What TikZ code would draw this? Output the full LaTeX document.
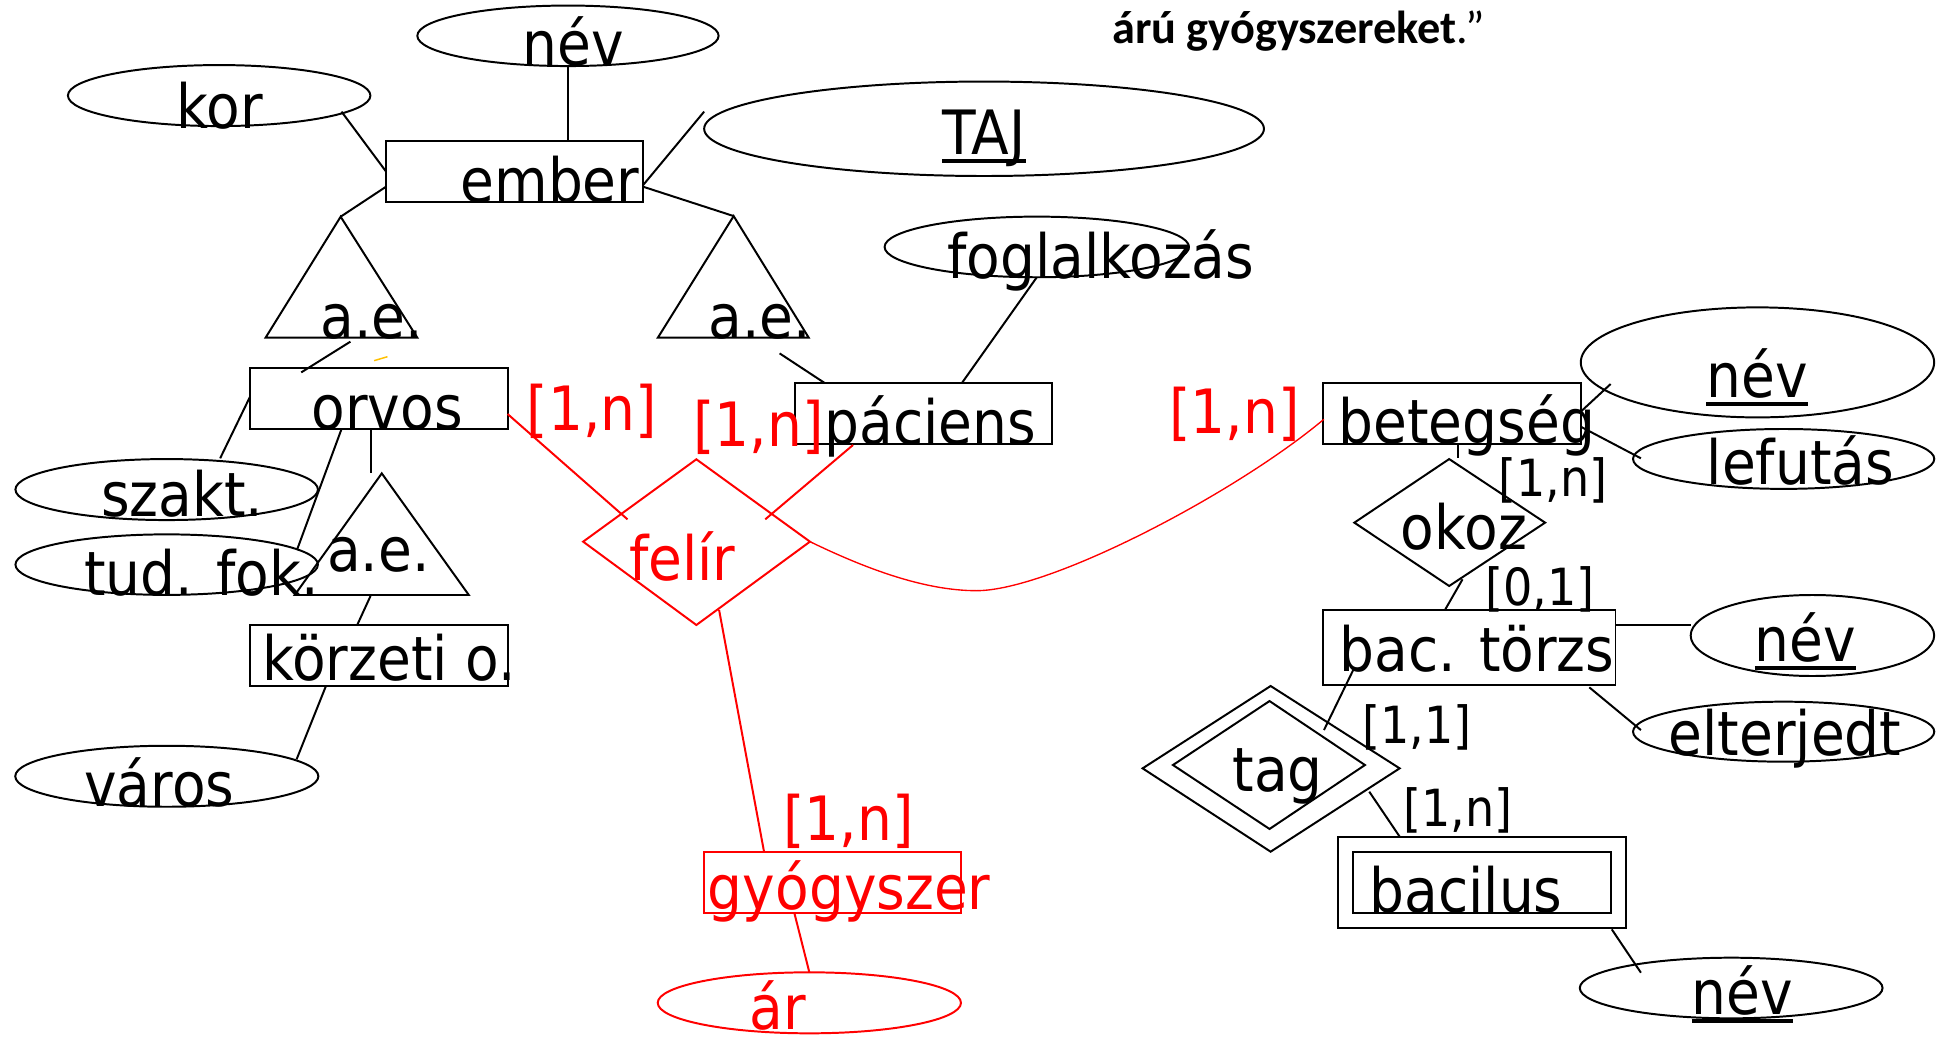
\documentclass[tikz,border=0pt]{standalone}
\usepackage{fontspec}
\setmainfont{DejaVu Sans}[FakeStretch=0.9]
\newfontfamily\headfont{Carlito}
\usetikzlibrary{shapes.geometric}
\newsavebox\ulbox
\newcommand\myul[1]{\sbox\ulbox{#1}\rlap{\rule[-6.5pt]{\wd\ulbox}{3pt}}\usebox\ulbox}
\definecolor{dashyel}{RGB}{255,192,0}
\begin{document}
\begin{tikzpicture}[x=1pt,y=-1pt,line width=1.6pt,
  box/.style={draw,rectangle,inner sep=0pt},
  attr/.style={draw,ellipse,inner sep=0pt},
  lbl/.style={inner sep=0pt,anchor=base,font=\fontsize{49.5}{56}\selectfont},
  card/.style={inner sep=0pt,anchor=base,font=\fontsize{41.5}{48}\selectfont},
  thinred/.style={red,line width=1.1pt}]
\useasboundingbox (0,0) rectangle (1568,840);

% ---------- entity boxes ----------
\node[box,minimum width=208.1pt,minimum height=49.2pt] (ember) at (416.75,138.8) {};
\node[box,minimum width=208.6pt,minimum height=49.2pt] (orvos) at (306.8,322.9) {};
\node[box,minimum width=208.6pt,minimum height=49.4pt] (korzeti) at (306.8,530.9) {};
\node[box,minimum width=208.7pt,minimum height=49.7pt] (paciens) at (747.85,335.05) {};
\node[box,minimum width=208.9pt,minimum height=49.7pt] (betegseg) at (1175.85,334.75) {};
\node[box,minimum width=237pt,minimum height=60.8pt] (bactorzs) at (1189.9,524.4) {};
\node[box,minimum width=233.1pt,minimum height=73.8pt] (bacilusO) at (1200.45,714.5) {};
\node[box,minimum width=208.5pt,minimum height=49.4pt] (bacilusI) at (1200.25,714.5) {};
\node[box,red,minimum width=208.1pt,minimum height=49.4pt] (gyogy) at (674.25,714.5) {};

% ---------- attribute ellipses ----------
\node[attr,minimum width=244pt,minimum height=49pt] (nev1) at (460,29) {};
\node[attr,minimum width=245pt,minimum height=49.4pt] (kor) at (177.5,77.4) {};
\node[attr,minimum width=453.4pt,minimum height=76.5pt] (taj) at (797,104.3) {};
\node[attr,minimum width=246.5pt,minimum height=49.1pt] (fogl) at (839.7,200) {};
\node[attr,minimum width=245pt,minimum height=49.4pt] (szakt) at (135,396.5) {};
\node[attr,minimum width=245pt,minimum height=49pt] (tudfok) at (135,457.3) {};
\node[attr,minimum width=245.5pt,minimum height=49.4pt] (varos) at (135.1,628.7) {};
\node[attr,minimum width=286.2pt,minimum height=89.1pt] (nev2) at (1423.4,293.5) {};
\node[attr,minimum width=244pt,minimum height=48.5pt] (lefutas) at (1444.6,371.7) {};
\node[attr,minimum width=197.2pt,minimum height=65.6pt] (nev3) at (1467.9,514.7) {};
\node[attr,minimum width=244pt,minimum height=48.6pt] (elterj) at (1444.6,592.6) {};
\node[attr,minimum width=245.2pt,minimum height=49.1pt] (nev4) at (1402.1,800.2) {};
\node[attr,red,minimum width=245.6pt,minimum height=49.4pt] (ar) at (655.5,812.2) {};

% ---------- triangles (a.e.) ----------
\coordinate (t1A) at (275.9,175.5); \coordinate (t1L) at (215.1,273.5); \coordinate (t1R) at (338,273.5);
\coordinate (t2A) at (594.2,175);   \coordinate (t2L) at (532.8,273.5); \coordinate (t2R) at (655,273.5);
\coordinate (t3A) at (309.2,383.4); \coordinate (t3L) at (238.7,481.9); \coordinate (t3R) at (379.7,481.9);
\draw (t1A) -- (t1R) -- (t1L) -- cycle;
\draw (t2A) -- (t2R) -- (t2L) -- cycle;
\draw (t3A) -- (t3R) -- (t3L) -- cycle;

% ---------- diamonds ----------
\coordinate (fT) at (564,372); \coordinate (fR) at (656,438.7); \coordinate (fB) at (564,506.2); \coordinate (fL) at (472.3,438.7);
\draw[red] (fT) -- (fR) -- (fB) -- (fL) -- cycle;
\coordinate (oT) at (1173.7,371.8); \coordinate (oR) at (1251.4,423.3); \coordinate (oB) at (1173.7,474.6); \coordinate (oL) at (1096.9,423.3);
\draw (oT) -- (oR) -- (oB) -- (oL) -- cycle;
\coordinate (gT) at (1029.1,555.6); \coordinate (gR) at (1133.6,622.3); \coordinate (gB) at (1029.1,689.8); \coordinate (gL) at (925.4,622.3);
\draw (gT) -- (gR) -- (gB) -- (gL) -- cycle;
\coordinate (hT) at (1028.2,567.8); \coordinate (hR) at (1105.5,619.6); \coordinate (hB) at (1028.2,671.4); \coordinate (hL) at (950,619.6);
\draw (hT) -- (hR) -- (hB) -- (hL) -- cycle;

% ---------- connector end points ----------
\coordinate (a1) at (276.6,90.4);   \coordinate (a2) at (312.7,139);
\coordinate (b1) at (460,53);       \coordinate (b2) at (460,114.2);
\coordinate (c1) at (520.8,150);    \coordinate (c2) at (570.3,90.4);
\coordinate (d1) at (312.7,151.2);
\coordinate (e1) at (520.8,151.2);
\coordinate (f1) at (283.8,276.7);  \coordinate (f2) at (244,301.6);
\coordinate (y1) at (303,292.1);    \coordinate (y2) at (313.8,288.9);
\coordinate (g1) at (631.4,286.2);  \coordinate (g2) at (667.6,310);
\coordinate (h1) at (779.2,310);    \coordinate (h2) at (839.7,224.6);
\coordinate (i1) at (202.5,321.3);  \coordinate (i2) at (178.3,371.2);
\coordinate (j1) at (276.6,347.5);  \coordinate (j2) at (240.5,445.5);
\coordinate (k1) at (300.1,347.5);  \coordinate (k2) at (300.1,383.4);
\coordinate (l1) at (300.1,482.7);  \coordinate (l2) at (289.3,506.2);
\coordinate (m1) at (264,555.6);    \coordinate (m2) at (240.2,615);
\coordinate (n1) at (411.1,335.3);  \coordinate (n2) at (508.2,420.6);
\coordinate (p1) at (690.9,360.4);  \coordinate (p2) at (619.8,420.6);
\coordinate (q1) at (1072.2,339.6); \coordinate (q0) at (790.9,478.4);
\coordinate (s1) at (582.4,494);    \coordinate (s2) at (618.8,689.8);
\coordinate (u1) at (643.3,739.2);  \coordinate (u2) at (655.5,787.5);
\coordinate (v1) at (1280.3,333.4); \coordinate (v2) at (1304.5,311);
\coordinate (w1) at (1280.3,345.6); \coordinate (w2) at (1329,371.2);
\coordinate (x1) at (1181,359.6);   \coordinate (x2) at (1181,371.2);
\coordinate (z1) at (1184.5,469.2); \coordinate (z2) at (1170.3,494);
\coordinate (aa1) at (1308.4,506.2); \coordinate (aa2) at (1369.3,506.2);
\coordinate (bb1) at (1287.2,556.7); \coordinate (bb2) at (1329,591.3);
\coordinate (cc1) at (1096,542.6);  \coordinate (cc2) at (1072.3,591.3);
\coordinate (dd1) at (1109,641.2);  \coordinate (dd2) at (1133.6,677.6);
\coordinate (ee1) at (1305.4,752.7); \coordinate (ee2) at (1329,787.8);

% ---------- black connectors ----------
\draw (a1) -- (a2);
\draw (b1) -- (b2);
\draw (c1) -- (c2);
\draw (d1) -- (t1A);
\draw (e1) -- (t2A);
\draw (f1) -- (f2);
\draw[dashyel,line width=1.2pt] (y1) -- (y2);
\draw (g1) -- (g2);
\draw (h1) -- (h2);
\draw (i1) -- (i2);
\draw (j1) -- (j2);
\draw (k1) -- (k2);
\draw (l1) -- (l2);
\draw (m1) -- (m2);
\draw (v1) -- (v2);
\draw (w1) -- (w2);
\draw (x1) -- (x2);
\draw (z1) -- (z2);
\draw (aa1) -- (aa2);
\draw (bb1) -- (bb2);
\draw (cc1) -- (cc2);
\draw (dd1) -- (dd2);
\draw (ee1) -- (ee2);

% ---------- red connectors ----------
\draw[red] (n1) -- (n2);
\draw[red] (p1) -- (p2);
\draw[red] (s1) -- (s2);
\draw[red] (u1) -- (u2);
\draw[thinred] (fR) .. controls (700,460) and (748,478.4) .. (q0)
                    .. controls (850,478.4) and (1000,400) .. (q1);

% ---------- texts ----------
\node[lbl] (tnev1) at (464.5,53) {név};
\node[lbl] (tkor) at (178,104) {kor};
\node[lbl] (tember) at (445.5,164) {ember};
\node[lbl] (ttaj) at (797,125.5) {\myul{TAJ}};
\node[lbl] (tae1) at (301,274) {a.e.};
\node[lbl] (tae2) at (615.3,274) {a.e.};
\node[lbl] (tfog) at (891.5,225.5) {foglalkozás};
\node[lbl] (torvos) at (313.5,348) {orvos};
\node[lbl] (tpac) at (753.6,360) {páciens};
\node[lbl] (tbeteg) at (1188,359.6) {betegség};
\node[lbl] (tnev2) at (1423,322) {\myul{név}};
\node[lbl] (tlef) at (1458.2,392.8) {lefutás};
\node[lbl] (tokoz) at (1185.6,444.9) {okoz};
\node[card] (k1n) at (1257.9,402) {[1,n]};
\node[card] (k01) at (1247.1,490) {[0,1]};
\node[lbl] (tbac) at (1196.2,544) {bac. törzs};
\node[lbl] (tnev3) at (1462.3,536) {\myul{név}};
\node[lbl] (telt) at (1445.7,611.5) {elterjedt};
\node[lbl] (ttag) at (1034.9,641) {tag};
\node[card] (k11) at (1147.6,602) {[1,1]};
\node[card] (k1n2) at (1180.9,669.6) {[1,n]};
\node[lbl] (tbacil) at (1187.4,739) {bacilus};
\node[lbl] (tnev4) at (1411.2,822) {\myul{név}};
\node[lbl] (tszakt) at (147.7,418) {szakt.};
\node[lbl] (ttud) at (163.1,482) {tud. fok.};
\node[lbl] (tae3) at (306.4,463) {a.e.};
\node[lbl] (tkorz) at (315.1,550.8) {körzeti o.};
\node[lbl] (tvaros) at (129,653.4) {város};
\node[lbl,red] (r1) at (479.4,348.5) {[1,n]};
\node[lbl,red] (r2) at (614.2,362) {[1,n]};
\node[lbl,red] (r3) at (999.7,351) {[1,n]};
\node[lbl,red] (r4) at (687.1,680.4) {[1,n]};
\node[lbl,red] (tfelir) at (552.6,469.8) {felír};
\node[lbl,red] (tgyogy) at (687.8,737) {gyógyszer};
\node[lbl,red] (tar) at (630,834) {ár};
\node[inner sep=0pt,anchor=base west,font=\headfont\fontsize{37.5}{43}\selectfont] (head) at (900,35) {\textbf{árú gyógyszereket}.”};
\end{tikzpicture}
\end{document}
